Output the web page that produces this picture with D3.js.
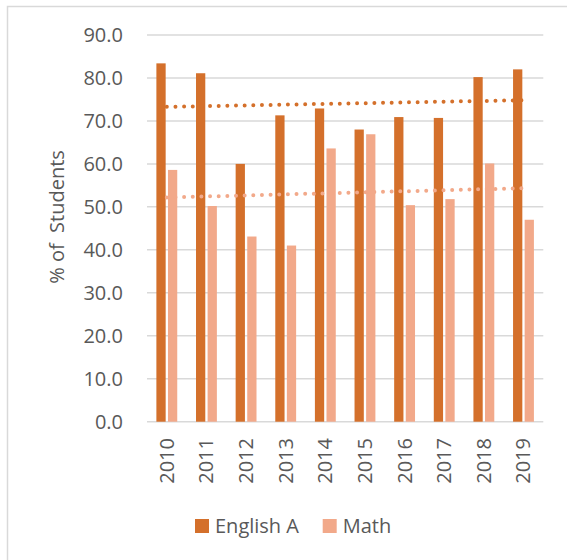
<!doctype html>
<html>
  <head>
    <meta charset="utf-8">
    <script src="https://cdn.jsdelivr.net/npm/d3@7"></script>
    <style>
      body { margin: 0; background: white; }
      .chart text { font-family: "Open Sans", sans-serif; fill: #595959; }
    </style>
  </head>
  <body>
    <svg class="chart"></svg>
    <script>
      // data
      const years = ["2010", "2011", "2012", "2013", "2014", "2015", "2016", "2017", "2018", "2019"]
      const englishA = [83.4, 81.1, 60.0, 71.3, 72.9, 68.0, 70.9, 70.7, 80.2, 82.0]
      const math = [58.6, 50.2, 43.1, 41.0, 63.6, 66.9, 50.4, 51.8, 60.1, 47.0]
      const yTicks = [0, 10, 20, 30, 40, 50, 60, 70, 80, 90]
      const seriesNames = ["English A", "Math"]

      const colors = { "English A": "#d4702b", "Math": "#f2a98a" }
      const series = [
        { name: "English A", values: englishA },
        { name: "Math", values: math }
      ]

      const W = 567, H = 560
      const plot = { left: 147, right: 543.3, top: 35, bottom: 421.7 }

      const svg = d3.select(".chart")
                    .attr("width", W)
                    .attr("height", H)

      // chart frame (only top + left edges show in the crop)
      svg.append("path")
        .attr("d", "M7.5," + H + "V6.5H" + W)
        .attr("fill", "none")
        .attr("stroke", "#d9d9d9")
        .attr("stroke-width", 1.5)

      const xScale = d3.scaleBand()
                       .domain(years)
                       .range([plot.left, plot.right])

      const xSub = d3.scaleBand()
                     .domain(seriesNames)
                     .range([0, xScale.bandwidth()])
                     .paddingInner(0.2)
                     .paddingOuter(0.81)

      const yScale = d3.scaleLinear()
                       .domain([0, 90])
                       .range([plot.bottom, plot.top])

      // gridlines
      svg.append("g")
        .selectAll("line")
        .data(yTicks)
        .enter().append("line")
          .attr("x1", plot.left)
          .attr("x2", plot.right)
          .attr("y1", d => yScale(d))
          .attr("y2", d => yScale(d))
          .attr("stroke", "#d9d9d9")
          .attr("stroke-width", 1.5)

      // y axis labels
      const yAxis = d3.axisLeft(yScale)
                      .tickValues(yTicks)
                      .tickSize(0)
                      .tickPadding(24)
                      .tickFormat(d3.format(".1f"))

      svg.append("g")
          .attr("transform", "translate(" + plot.left + ",0)")
          .call(yAxis)
          .call(g => g.select(".domain").remove())
          .selectAll("text")
            .style("font-size", "20px")
            .attr("fill", "#595959")

      svg.append("text")
        .attr("transform", "translate(57," + 217 + ") rotate(-90)")
        .attr("text-anchor", "middle")
        .attr("dy", "0.35em")
        .style("font-size", "20px")
        .style("white-space", "pre")
        .text("% of  Students")

      // bars
      series.forEach(s => {
        svg.append("g")
          .selectAll("rect")
          .data(s.values)
          .enter().append("rect")
            .attr("x", (d, i) => xScale(years[i]) + xSub(s.name))
            .attr("y", d => yScale(d))
            .attr("width", xSub.bandwidth())
            .attr("height", d => yScale(0) - yScale(d))
            .attr("fill", colors[s.name])
      })

      // linear trendlines
      series.forEach(s => {
        const n = s.values.length
        const xs = d3.range(n)
        const mx = d3.mean(xs), my = d3.mean(s.values)
        const slope = d3.sum(xs, i => (i - mx) * (s.values[i] - my)) / d3.sum(xs, i => (i - mx) * (i - mx))
        const fit = i => my + slope * (i - mx)
        const cx = i => xScale(years[i]) + xScale.bandwidth() / 2

        svg.append("line")
          .attr("x1", cx(0))
          .attr("x2", cx(n - 1))
          .attr("y1", yScale(fit(0)))
          .attr("y2", yScale(fit(n - 1)))
          .attr("stroke", colors[s.name])
          .attr("stroke-width", 4)
          .attr("stroke-linecap", "round")
          .attr("stroke-dasharray", "0 8.65")
      })

      // x labels, rotated
      svg.append("g")
        .selectAll("text")
        .data(years)
        .enter().append("text")
          .attr("transform", d => "translate(" + (xScale(d) + xScale.bandwidth() / 2) + ",438) rotate(-90)")
          .attr("text-anchor", "end")
          .attr("dy", "0.35em")
          .style("font-size", "20px")
          .text(d => d)

      // legend
      const legendX = [195, 322.7]
      const legend = svg.append("g")
      seriesNames.forEach((name, i) => {
        legend.append("rect")
          .attr("x", legendX[i])
          .attr("y", 519)
          .attr("width", 14)
          .attr("height", 14)
          .attr("fill", colors[name])
        legend.append("text")
          .attr("x", legendX[i] + 20)
          .attr("y", 533)
          .style("font-size", "20px")
          .text(name)
      })
    </script>
  </body>
</html>
